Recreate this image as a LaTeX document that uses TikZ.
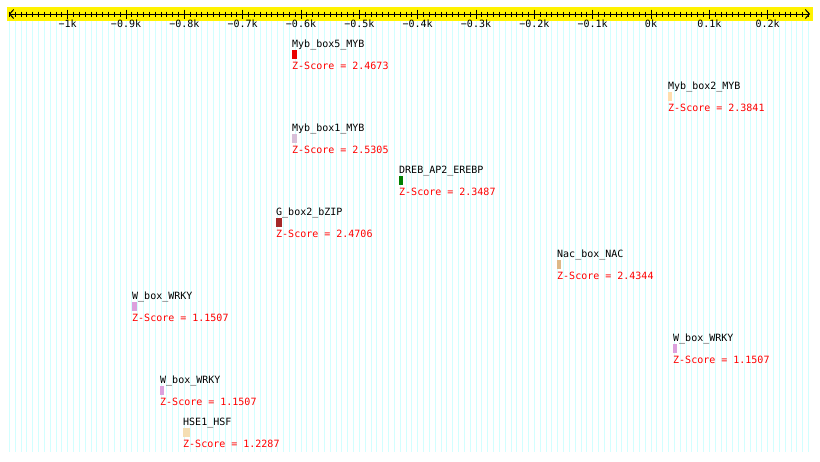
\documentclass[tikz,border=0pt]{standalone}
\usepackage{fontspec}
\setmainfont{DejaVu Sans Mono}
\usetikzlibrary{arrows.meta}
\definecolor{stripe}{RGB}{210,255,255}
\definecolor{boxred}{RGB}{235,0,0}
\definecolor{boxbrown}{RGB}{165,42,42}
\definecolor{boxthistle}{RGB}{216,191,216}
\definecolor{boxpeach}{RGB}{255,222,173}
\definecolor{boxburly}{RGB}{222,184,135}
\definecolor{boxplum}{RGB}{221,160,221}
\definecolor{boxwheat}{RGB}{245,222,179}
\definecolor{boxgreen}{RGB}{0,128,0}
\begin{document}
\begin{tikzpicture}[x=1pt, y=-1pt, >={Straight Barb[length=4pt,width=9pt]},
    motif/.style={anchor=base west, inner sep=0pt, font=\fontsize{10}{12}\selectfont},
    score/.style={motif, text=red},
    ticklabel/.style={anchor=base, inner sep=0pt, font=\fontsize{10}{12}\selectfont}]
  \useasboundingbox (0,0) rectangle (820,461);
  % background stripes
  \foreach \i in {-110,...,27}
    \draw[stripe, line width=0.8pt] ({651+5.833*\i},21) -- ({651+5.833*\i},452);
  % axis
  \fill[yellow] (7,7) rectangle (813,21);
  \coordinate (axl) at (9,14);
  \coordinate (axr) at (810,14);
  \draw[<->, line width=1pt] (axl) -- (axr);
  \foreach \i in {-110,...,27}
    \draw[line width=1pt] ({651+5.833*\i},11.5) -- ({651+5.833*\i},16.5);
  \foreach \i/\t in {-10/−1k, -9/−0.9k, -8/−0.8k, -7/−0.7k, -6/−0.6k, -5/−0.5k,
      -4/−0.4k, -3/−0.3k, -2/−0.2k, -1/−0.1k, 0/0k, 1/0.1k, 2/0.2k} {
    \draw[line width=1pt] ({651+58.33*\i},9.5) -- ({651+58.33*\i},18.5);
    \node[ticklabel] (t\i) at ({651+58.33*\i},27.7) {\t};
  }
  % motifs
  \foreach \x/\r/\name/\z/\col/\w in {
      292/0/Myb\_box5\_MYB/2.4673/boxred/4.5,
      668/1/Myb\_box2\_MYB/2.3841/boxpeach/4,
      292/2/Myb\_box1\_MYB/2.5305/boxthistle/5,
      399/3/DREB\_AP2\_EREBP/2.3487/boxgreen/4.3,
      276/4/G\_box2\_bZIP/2.4706/boxbrown/6,
      557/5/Nac\_box\_NAC/2.4344/boxburly/4,
      132/6/W\_box\_WRKY/1.1507/boxplum/5,
      673/7/W\_box\_WRKY/1.1507/boxplum/4,
      160/8/W\_box\_WRKY/1.1507/boxplum/4,
      183/9/HSE1\_HSF/1.2287/boxwheat/6.7} {
    \node[motif] (m\r) at (\x,{47.3+42*\r}) {\name};
    \fill[\col] (\x,{50+42*\r}) rectangle ++(\w,9.3);
    \node[score] (z\r) at (\x,{69.3+42*\r}) {Z-Score = \z};
  }
\end{tikzpicture}
\end{document}
